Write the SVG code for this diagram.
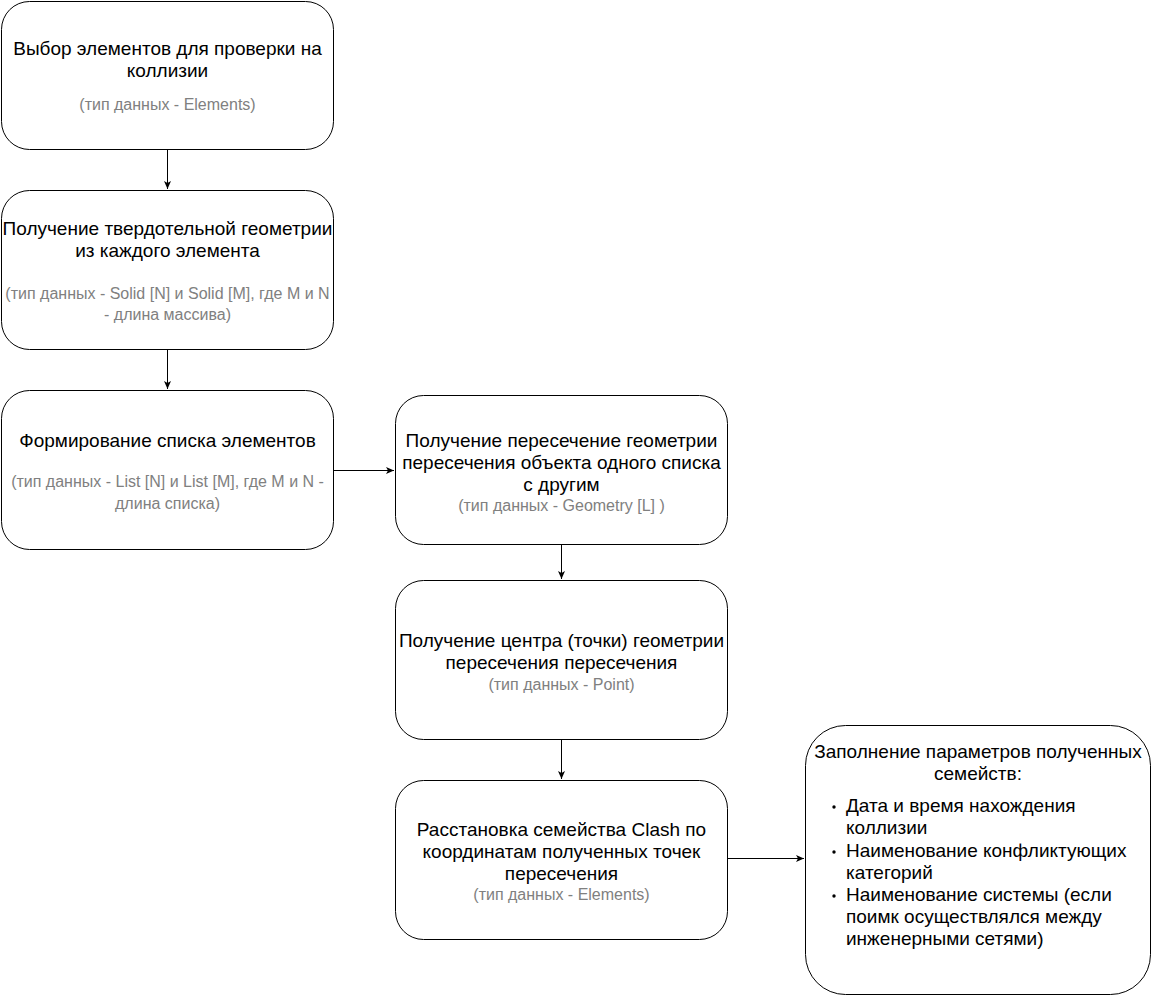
<svg xmlns="http://www.w3.org/2000/svg" width="1152" height="996" viewBox="0 0 1152 996">
<defs>
<marker id="ah" markerWidth="10" markerHeight="10" refX="9" refY="5" orient="auto" markerUnits="userSpaceOnUse">
<path d="M1,1.5 L9,5 L1,8.5 L3,5 Z" fill="#000"/>
</marker>
<style>
.box{fill:#fff;stroke:#000;stroke-width:1}
.t{font-family:"Liberation Sans",Arial,sans-serif;font-size:19px;fill:#000;text-anchor:middle}
.g{font-family:"Liberation Sans",Arial,sans-serif;font-size:16px;fill:#808080;text-anchor:middle}
.l{font-family:"Liberation Sans",Arial,sans-serif;font-size:19px;fill:#000}
.c{fill:none;stroke:#000;stroke-width:1}
</style>
</defs>
<rect width="1152" height="996" fill="#fff"/>
<g id="connectors">
<path class="c" d="M167.5,150 V189" marker-end="url(#ah)"/>
<path class="c" d="M167.5,350 V389" marker-end="url(#ah)"/>
<path class="c" d="M334,470.5 H394" marker-end="url(#ah)"/>
<path class="c" d="M561.5,545 V579" marker-end="url(#ah)"/>
<path class="c" d="M561.5,740 V779" marker-end="url(#ah)"/>
<path class="c" d="M728,858.5 H804" marker-end="url(#ah)"/>
</g>
<g id="n1">
<rect class="box" x="1.5" y="1.5" width="332" height="148" rx="28"/>
<text class="t" x="167.5" y="55">Выбор элементов для проверки на</text>
<text class="t" x="167.5" y="77">коллизии</text>
<text class="g" x="167.5" y="110">(тип данных - Elements)</text>
</g>
<g id="n2">
<rect class="box" x="1.5" y="190.5" width="332" height="159" rx="28"/>
<text class="t" x="167.5" y="235">Получение твердотельной геометрии</text>
<text class="t" x="167.5" y="257">из каждого элемента</text>
<text class="g" x="167.5" y="299">(тип данных - Solid [N] и Solid [M], где M и N</text>
<text class="g" x="167.5" y="320">- длина массива)</text>
</g>
<g id="n3">
<rect class="box" x="1.5" y="390.5" width="332" height="159" rx="28"/>
<text class="t" x="167.5" y="447">Формирование списка элементов</text>
<text class="g" x="167.5" y="487">(тип данных - List [N] и List [M], где M и N -</text>
<text class="g" x="167.5" y="509">длина списка)</text>
</g>
<g id="n4">
<rect class="box" x="395.5" y="395.5" width="332" height="149" rx="28"/>
<text class="t" x="561.5" y="447">Получение пересечение геометрии</text>
<text class="t" x="561.5" y="469">пересечения объекта одного списка</text>
<text class="t" x="561.5" y="491">с другим</text>
<text class="g" x="561.5" y="511">(тип данных - Geometry [L] )</text>
</g>
<g id="n5">
<rect class="box" x="395.5" y="580.5" width="332" height="159" rx="28"/>
<text class="t" x="561.5" y="647">Получение центра (точки) геометрии</text>
<text class="t" x="561.5" y="669">пересечения пересечения</text>
<text class="g" x="561.5" y="690">(тип данных - Point)</text>
</g>
<g id="n6">
<rect class="box" x="395.5" y="780.5" width="332" height="159" rx="28"/>
<text class="t" x="561.5" y="836">Расстановка семейства Clash по</text>
<text class="t" x="561.5" y="858">координатам полученных точек</text>
<text class="t" x="561.5" y="880">пересечения</text>
<text class="g" x="561.5" y="900">(тип данных - Elements)</text>
</g>
<g id="n7">
<rect class="box" x="805.5" y="725.5" width="345" height="269" rx="40"/>
<text class="t" x="978" y="758">Заполнение параметров полученных</text>
<text class="t" x="978" y="780">семейств:</text>
<circle cx="834" cy="807" r="1.7" fill="#000"/>
<circle cx="834" cy="852" r="1.7" fill="#000"/>
<circle cx="834" cy="896" r="1.7" fill="#000"/>
<text class="l" x="846" y="812">Дата и время нахождения</text>
<text class="l" x="846" y="834">коллизии</text>
<text class="l" x="846" y="857">Наименование конфликтующих</text>
<text class="l" x="846" y="879">категорий</text>
<text class="l" x="846" y="901">Наименование системы (если</text>
<text class="l" x="846" y="923">поимк осуществлялся между</text>
<text class="l" x="846" y="945">инженерными сетями)</text>
</g>
</svg>
